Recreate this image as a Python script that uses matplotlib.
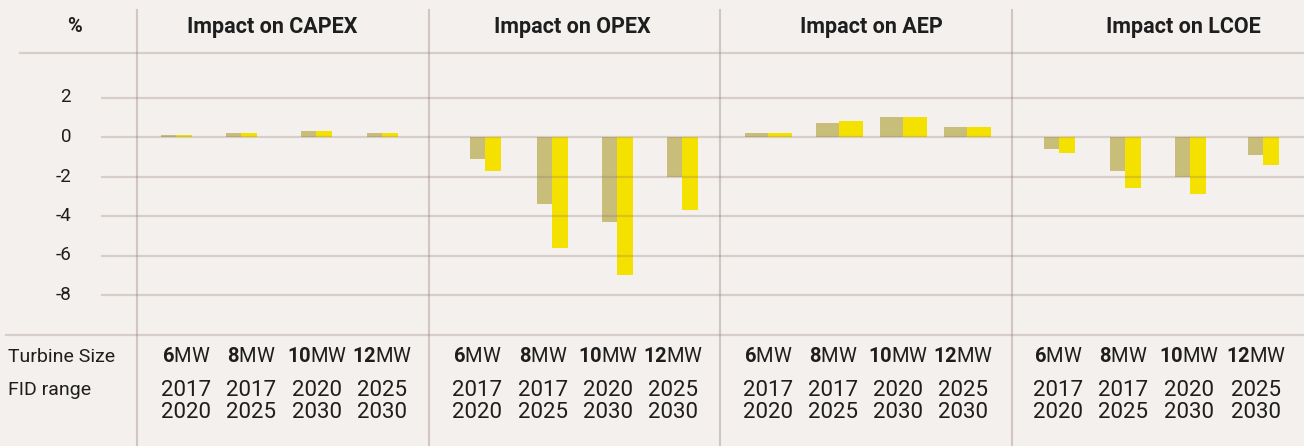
import matplotlib
matplotlib.use("Agg")
import matplotlib.pyplot as plt

# ---- data ----
panels = ["Impact on CAPEX", "Impact on OPEX", "Impact on AEP", "Impact on LCOE"]
sizes = ["6", "8", "10", "12"]
fid_start = ["2017", "2017", "2020", "2025"]
fid_end = ["2020", "2025", "2030", "2030"]
capex_a = [0.1, 0.2, 0.3, 0.2]
capex_b = [0.1, 0.2, 0.3, 0.2]
opex_a = [-1.1, -3.4, -4.3, -2.0]
opex_b = [-1.7, -5.6, -7.0, -3.7]
aep_a = [0.2, 0.7, 1.0, 0.5]
aep_b = [0.2, 0.8, 1.0, 0.5]
lcoe_a = [-0.6, -1.7, -2.0, -0.9]
lcoe_b = [-0.8, -2.6, -2.9, -1.4]
yticks = [2, 0, -2, -4, -6, -8]

series_a = [capex_a, opex_a, aep_a, lcoe_a]
series_b = [capex_b, opex_b, aep_b, lcoe_b]

# ---- layout (pixel-like x coordinates) ----
dividers = [137, 429, 720, 1012]
group_centers = [[176, 241, 316, 382],
                 [485, 552, 617, 682],
                 [768, 839, 903, 967],
                 [1059, 1125, 1190, 1263]]
label_centers = [[186, 251, 317, 382],
                 [477, 543, 608, 673],
                 [768, 833, 898, 963],
                 [1058, 1123, 1189, 1256]]
bar_widths = [15.5, 15.5, 23.5, 15.5]
panel_centers = [272, 572, 871, 1183]

BG = "#F3F0ED"
OLIVE = "#C8BE7A"
YELLOW = "#F5E100"
TXT = "#1E1E1E"
GRID = "#8C6E64"

plt.rcParams["font.family"] = ["Roboto", "DejaVu Sans"]
plt.rcParams["mathtext.fontset"] = "custom"
plt.rcParams["mathtext.rm"] = "Roboto"
plt.rcParams["mathtext.bf"] = "Roboto:bold"

fig = plt.figure(figsize=(13.04, 4.46), dpi=100, facecolor=BG)
ax = fig.add_axes([0, 0, 1, 1])
ax.set_facecolor(BG)
px = 19.75
ax.set_xlim(0, 1304)
ax.set_ylim((137 - 446) / px, 137 / px)
ax.axis("off")

# bars
for i in range(4):
    w = bar_widths[i]
    xs = group_centers[i]
    ax.bar([x - w / 2 for x in xs], series_a[i], width=w, color=OLIVE, zorder=2)
    ax.bar([x + w / 2 for x in xs], series_b[i], width=w, color=YELLOW, zorder=2)

# grid lines
GA = 0.26
for t in yticks:
    ax.plot([101, 1304], [t, t], color=GRID, alpha=GA, lw=1.6, zorder=3,
            solid_capstyle="butt")
    ax.text(71, t, str(t), ha="right", va="center", fontsize=13.5, color=TXT)
ax.plot([6, 1304], [-10, -10], color=GRID, alpha=GA, lw=1.6, zorder=3)
ax.plot([20, 1304], [4.25, 4.25], color=GRID, alpha=GA, lw=1.6, zorder=3)
for d in dividers:
    ax.plot([d, d], [(137 - 446) / px, (137 - 10) / px], color=GRID, alpha=0.32,
            lw=1.5, zorder=3)

# headers
ytop = (137 - 27) / px
ax.text(75, ytop, "%", ha="center", va="center", fontsize=14.5,
        fontweight="bold", color=TXT)
for i, p in enumerate(panels):
    ax.text(panel_centers[i], ytop, p, ha="center", va="center", fontsize=15.5,
            fontweight="bold", color=TXT)

# bottom table
y_mw = (137 - 357) / px
y_f1 = (137 - 390) / px
y_f2 = (137 - 413) / px
ax.text(8, y_mw, "Turbine Size", ha="left", va="center", fontsize=14,
        color=TXT)
ax.text(8, y_f1, "FID range", ha="left", va="center", fontsize=14,
        color=TXT)
for i in range(4):
    for j in range(4):
        x = label_centers[i][j]
        ax.text(x, y_mw, r"$\mathbf{" + sizes[j] + r"}$" + "MW", ha="center",
                va="center", fontsize=14.5, color=TXT)
        ax.text(x, y_f1, fid_start[j], ha="center", va="center", fontsize=16,
                color=TXT)
        ax.text(x, y_f2, fid_end[j], ha="center", va="center", fontsize=16,
                color=TXT)

fig.savefig("out.png", dpi=100, facecolor=BG)
